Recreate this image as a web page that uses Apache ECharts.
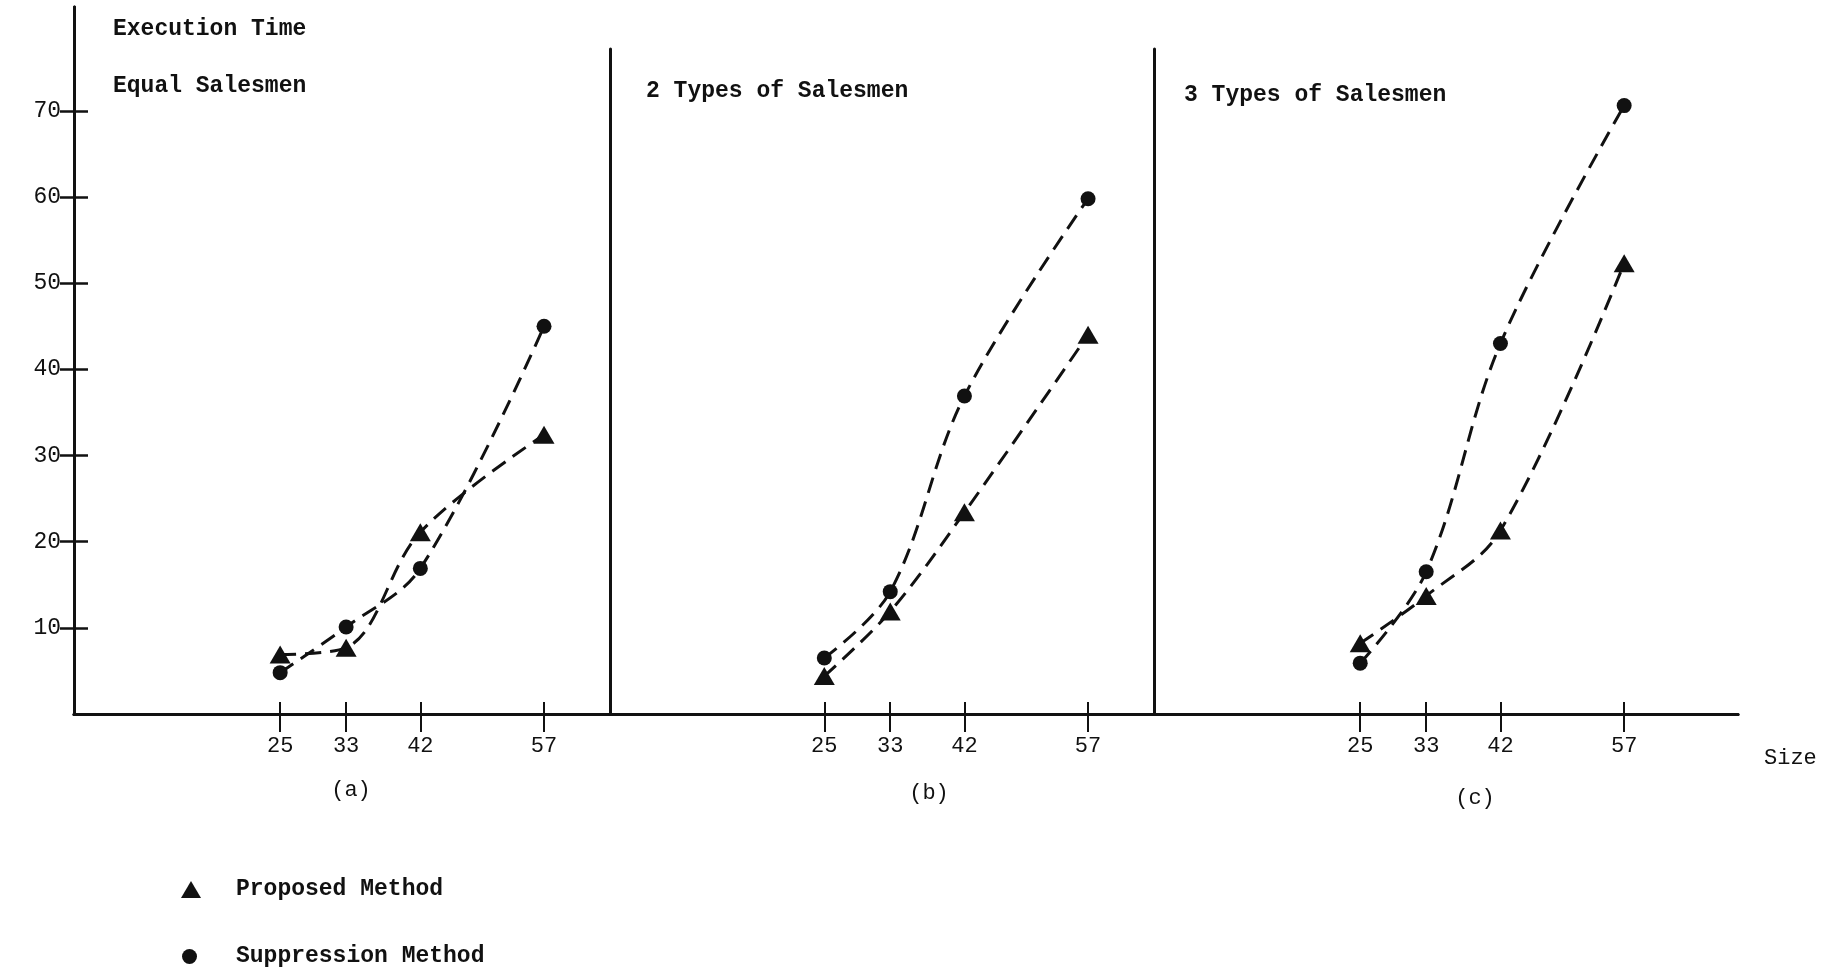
<!DOCTYPE html>
<html><head><meta charset="utf-8">
<script src="https://cdn.jsdelivr.net/npm/echarts@6/dist/echarts.min.js"></script>
<style>html,body{margin:0;padding:0;background:#fff}#c{width:1833px;height:975px}</style>
</head><body><div id="c"></div>
<script>
// ---- data ----
const sizes = [25, 33, 42, 57];
const yTicks = [10, 20, 30, 40, 50, 60, 70];
const panelNames = ['Equal Salesmen', '2 Types of Salesmen', '3 Types of Salesmen'];
const panelLetters = ['(a)', '(b)', '(c)'];
const seriesNames = ['Proposed Method', 'Suppression Method'];
const proposedA = [6.9, 7.7, 21.1, 32.4];
const suppressionA = [4.8, 10.1, 16.9, 45.0];
const proposedB = [4.4, 11.9, 23.4, 44.0];
const suppressionB = [6.5, 14.2, 36.9, 59.8];
const proposedC = [8.2, 13.7, 21.3, 52.3];
const suppressionC = [5.9, 16.5, 43.0, 70.6];

// ---- layout / style ----
const ink = '#111';
const ff = '"Liberation Mono", "DejaVu Sans Mono", monospace';
const panels = [
  {left: 74, width: 536, top: 7, ymax: 82.05, xmin: 0, xmax: 65, p: proposedA, s: suppressionA},
  {left: 610, width: 544, top: 49, ymax: 77.17, xmin: -1, xmax: 65, p: proposedB, s: suppressionB},
  {left: 1154, width: 584, top: 49, ymax: 77.17, xmin: 0, xmax: 70.8, p: proposedC, s: suppressionC}
];
const gridBottom = 261;

const grids = panels.map(p => ({left: p.left, width: p.width, top: p.top, bottom: gridBottom, containLabel: false}));

// x axes 0-2: main (line, outward ticks, labels); 3-5: twin axes giving the upward half of each tick
const xAxes = [];
panels.forEach((p, i) => {
  xAxes.push({
    type: 'value', gridIndex: i, min: p.xmin, max: p.xmax, position: 'bottom',
    axisLine: {show: true, onZero: false, lineStyle: {color: ink, width: 3}},
    axisTick: {show: true, customValues: sizes, length: 18, lineStyle: {color: ink, width: 2}},
    axisLabel: {show: true, customValues: sizes, margin: 21, fontSize: 22, fontFamily: ff, color: ink},
    splitLine: {show: false}
  });
});
panels.forEach((p, i) => {
  xAxes.push({
    type: 'value', gridIndex: i, min: p.xmin, max: p.xmax, position: 'bottom',
    axisLine: {show: true, onZero: false, lineStyle: {color: ink, width: 3}},
    axisTick: {show: true, inside: true, customValues: sizes, length: 12, lineStyle: {color: ink, width: 2}},
    axisLabel: {show: false}, splitLine: {show: false}
  });
});

const yAxes = panels.map((p, i) => ({
  type: 'value', gridIndex: i, min: 0, max: p.ymax, position: 'left',
  axisLine: {show: true, onZero: false, lineStyle: {color: ink, width: 3}},
  axisTick: i === 0 ? {show: true, customValues: yTicks, length: 14, lineStyle: {color: ink, width: 2.5}} : {show: false},
  axisLabel: i === 0 ? {show: true, customValues: yTicks, margin: 13, fontSize: 23, fontFamily: ff, color: ink} : {show: false},
  splitLine: {show: false}
}));
yAxes.push({
  type: 'value', gridIndex: 0, min: 0, max: panels[0].ymax, position: 'left',
  axisLine: {show: true, onZero: false, lineStyle: {color: ink, width: 3}},
  axisTick: {show: true, inside: true, customValues: yTicks, length: 14, lineStyle: {color: ink, width: 2.5}},
  axisLabel: {show: false}, splitLine: {show: false}
});

const series = [];
panels.forEach((p, i) => {
  series.push({
    type: 'line', name: seriesNames[0], xAxisIndex: i, yAxisIndex: i,
    data: sizes.map((x, k) => [x, p.p[k]]),
    smooth: 0.35, symbol: 'triangle', symbolSize: [21, 18],
    itemStyle: {color: ink}, lineStyle: {color: ink, width: 3, type: [16, 9]}
  });
  series.push({
    type: 'line', name: seriesNames[1], xAxisIndex: 3 + i, yAxisIndex: i === 0 ? 3 : i,
    data: sizes.map((x, k) => [x, p.s[k]]),
    smooth: 0.35, symbol: 'circle', symbolSize: 15,
    itemStyle: {color: ink}, lineStyle: {color: ink, width: 3, type: [16, 9]}
  });
});

const txt = {fontFamily: ff, fontSize: 23, color: ink, fontWeight: 'bold'};
const titles = [
  {text: 'Execution Time', left: 113, top: 18, padding: 0, textStyle: txt},
  {text: panelNames[0], left: 113, top: 75, padding: 0, textStyle: txt},
  {text: panelNames[1], left: 646, top: 80, padding: 0, textStyle: txt},
  {text: panelNames[2], left: 1184, top: 84, padding: 0, textStyle: txt}
];

const letterPos = [[351, 790], [929, 793], [1475, 798]];
const graphics = panelLetters.map((t, i) => ({
  type: 'text', x: letterPos[i][0], y: letterPos[i][1],
  style: {text: t, font: '22px ' + ff, fill: ink, textAlign: 'center', textVerticalAlign: 'middle'}
}));
graphics.push({type: 'text', x: 1764, y: 758,
  style: {text: 'Size', font: '22px ' + ff, fill: ink, textAlign: 'left', textVerticalAlign: 'middle'}});

const legendText = {fontFamily: ff, fontSize: 23, fontWeight: 'bold', color: ink, padding: [0, 0, 0, 30]};
const legends = [
  {left: 181, top: 878, padding: 0, itemWidth: 20, itemHeight: 17, selectedMode: false,
   data: [{name: seriesNames[0], icon: 'triangle'}], textStyle: legendText},
  {left: 182, top: 945, padding: 0, itemWidth: 15, itemHeight: 15, selectedMode: false,
   data: [{name: seriesNames[1], icon: 'circle'}], textStyle: Object.assign({}, legendText, {padding: [4, 0, 0, 34]})}
];

const chart = echarts.init(document.getElementById('c'), null, {renderer: 'canvas'});
chart.setOption({
  animation: false,
  backgroundColor: '#fff',
  title: titles,
  grid: grids,
  xAxis: xAxes,
  yAxis: yAxes,
  legend: legends,
  graphic: graphics,
  series: series
});
</script></body></html>
